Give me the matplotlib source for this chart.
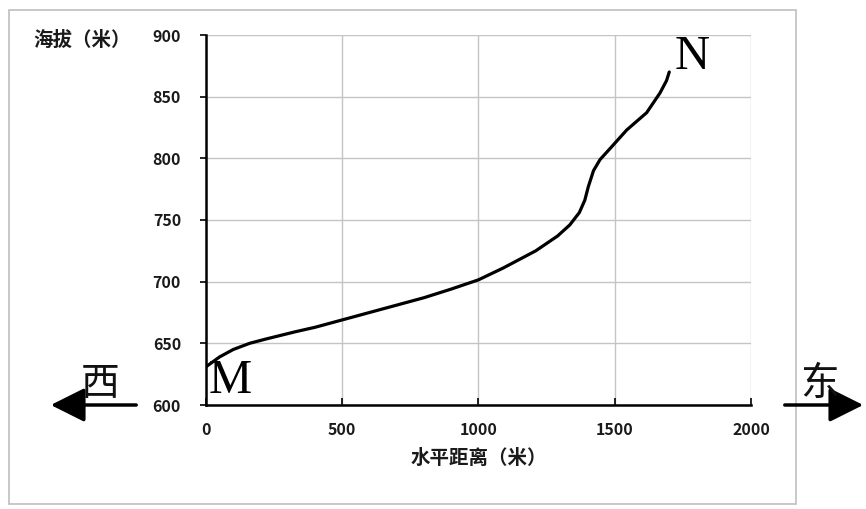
import numpy as np
import matplotlib
matplotlib.use('Agg')
import matplotlib.pyplot as plt
from matplotlib.patches import Rectangle, FancyArrowPatch

plt.rcParams['font.family'] = ['Noto Sans CJK SC', 'DejaVu Sans']

# profile M -> N
dist = [0, 25, 50, 100, 160, 220, 330, 400, 500, 600, 700, 800, 900, 1000,
        1090, 1210, 1290, 1335, 1370, 1390, 1403, 1422, 1446, 1483, 1544,
        1617, 1666, 1690, 1700]
elev = [631, 635, 639, 645, 650, 653.5, 659.5, 663, 669, 675, 681, 687, 694,
        701.5, 711, 725, 737, 746, 756, 766, 777, 790, 799, 808, 823,
        837, 853, 863, 870]

x_ticks = [0, 500, 1000, 1500, 2000]
y_ticks = [600, 650, 700, 750, 800, 850, 900]

fig = plt.figure(figsize=(8.66, 5.09), dpi=100)
ax = fig.add_axes([206/866, 1-405/509, 545/866, 370/509])

# outer frame of the picture
fig.patches.append(Rectangle((9/866, 1-504/509), 787/866, 494/509,
                             transform=fig.transFigure, fill=False,
                             edgecolor='#bfbfbf', lw=1.2, zorder=0))

ax.plot(dist, elev, c='k', lw=2.3, solid_capstyle='round',
        solid_joinstyle='round', zorder=3)

ax.set_xlim(0, 2000)
ax.set_ylim(600, 900)
ax.set_xticks(x_ticks)
ax.set_yticks(y_ticks)
ax.grid(True, color='#c4c4c4', lw=1)
ax.set_axisbelow(True)
for s in ['top', 'right']:
    ax.spines[s].set_visible(False)
for s in ['left', 'bottom']:
    ax.spines[s].set_linewidth(1.8)
ax.tick_params(axis='y', direction='out', length=4, width=1.2, pad=14,
               labelsize=11.5)
ax.tick_params(axis='x', direction='in', length=5, width=1.2, pad=12,
               labelsize=11.5)
for lab in ax.get_xticklabels() + ax.get_yticklabels():
    lab.set_fontweight('bold')
    lab.set_color('#1a1a1a')

ax.set_xlabel('水平距离（米）', fontsize=14, fontweight='bold', labelpad=8,
              color='#1a1a1a')
fig.text(33/866, 1-40/509, '海拔（米）', fontsize=14, fontweight='bold',
         va='center', ha='left', color='#1a1a1a')

# point labels
ax.text(10, 602, 'M', family='Liberation Serif', fontsize=35, va='bottom',
        ha='left')
ax.text(1720, 864, 'N', family='Liberation Serif', fontsize=35, va='bottom',
        ha='left')

# direction arrows
for x0, x1 in [(139, 48), (782, 866)]:
    fig.patches.append(FancyArrowPatch(
        (x0/866, 1-405/509), (x1/866, 1-405/509), transform=fig.transFigure,
        arrowstyle='-|>,head_length=1.5,head_width=0.75', mutation_scale=14,
        color='k', lw=2.5))
fig.text(100/866, 1-384/509, '西', fontsize=28, ha='center', va='center',
         color='#111111')
fig.text(820/866, 1-384/509, '东', fontsize=28, ha='center', va='center',
         color='#111111')

fig.savefig('out.png', dpi=100)
